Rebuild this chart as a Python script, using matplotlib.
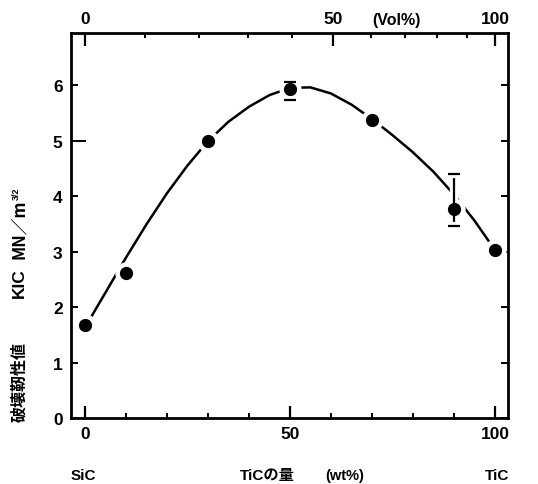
import numpy as np
import matplotlib
matplotlib.use("Agg")
import matplotlib.pyplot as plt
import matplotlib.patheffects as pe

# Measured fracture toughness of SiC-TiC composites
tic_wt = [0, 10, 30, 50, 70, 90, 100]
kic = [1.68, 2.62, 5.00, 5.93, 5.38, 3.77, 3.03]
err_low = [0, 0, 0, 0.20, 0, 0.30, 0]
err_high = [0, 0, 0, 0.13, 0, 0.62, 0]

# Hand-drawn trend curve through the measurements
curve_x = [0, 5, 10, 15, 20, 25, 30, 35, 40, 45, 50, 55, 60, 65, 70, 75, 80, 85, 90, 95, 100]
curve_y = [1.63, 2.26, 2.89, 3.49, 4.05, 4.55, 4.99, 5.34, 5.61, 5.82, 5.95, 5.96, 5.85,
           5.65, 5.39, 5.10, 4.79, 4.44, 4.03, 3.56, 3.03]

y_ticks = [0, 1, 2, 3, 4, 5, 6]
x_major = [0, 50, 100]
x_minor = [10, 20, 30, 40, 60, 70, 80, 90]
vol_major = [0, 50, 100]
vol_minor = [10, 20, 30, 40, 60, 70, 80, 90]

# densities (g/cm3) used to convert vol% to wt% for the top scale
RHO_SIC = 3.21
RHO_TIC = 4.93


def vol_to_wt(v):
    v = np.asarray(v, dtype=float) / 100.0
    return 100.0 * v * RHO_TIC / (v * RHO_TIC + (1 - v) * RHO_SIC)


LAT = ["Liberation Sans", "Noto Sans CJK JP"]
CJK = ["Noto Sans CJK JP", "Liberation Sans"]

W, H = 538, 485
fig = plt.figure(figsize=(W / 100, H / 100), dpi=100)
ax = fig.add_axes([71 / W, 1 - 419 / H, (508 - 71) / W, (419 - 34) / H])

ax.set_xlim(-3.4, 103.2)
ax.set_ylim(0, 6.94)

for s in ax.spines.values():
    s.set_linewidth(2.0)

lw = 1.8
ax.plot(curve_x, curve_y, color="black", lw=lw, zorder=2, solid_capstyle="butt",
        solid_joinstyle="round")

# white halo around markers leaves the gaps in the curve
ax.plot(tic_wt, kic, "o", ms=15, mfc="white", mec="white", zorder=3)

halo = [pe.Stroke(linewidth=6, foreground="white"), pe.Normal()]
eb = ax.errorbar([tic_wt[i] for i in (3, 5)], [kic[i] for i in (3, 5)],
                 yerr=[[err_low[i] for i in (3, 5)], [err_high[i] for i in (3, 5)]],
                 fmt="none", ecolor="black", elinewidth=1.6, capsize=4.5, capthick=1.6,
                 zorder=4)
for art in list(eb.lines[1]) + list(eb.lines[2]):
    art.set_path_effects(halo)

ax.plot(tic_wt, kic, "o", ms=8.5, color="black", zorder=5)

# bottom axis ticks
ax.set_xticks(x_major)
ax.set_xticks(x_minor, minor=True)
ax.set_xticklabels([str(v) for v in x_major])
ax.set_yticks(y_ticks)
ax.set_yticklabels([str(v) for v in y_ticks])
ax.tick_params(axis="x", which="major", direction="in", length=9, width=1.6,
               pad=6, labelsize=12.5, top=False)
ax.tick_params(axis="x", which="minor", direction="in", length=3.5, width=1.4, top=False)
ax.tick_params(axis="y", which="major", direction="in", length=5, width=1.4,
               pad=6, labelsize=12.5, right=True)
ax.yaxis.get_major_ticks()[5].tick1line.set_markersize(11)
for lab in ax.get_xticklabels() + ax.get_yticklabels():
    lab.set_fontfamily(LAT)
    lab.set_fontweight("bold")

# top axis in vol%
top = ax.twiny()
top.set_xlim(ax.get_xlim())
top.set_xticks(vol_to_wt(vol_major))
top.set_xticks(vol_to_wt(vol_minor), minor=True)
top.set_xticklabels([str(v) for v in vol_major])
top.tick_params(axis="x", which="major", direction="in", length=9, width=1.6,
                pad=5, labelsize=12.5)
top.tick_params(axis="x", which="minor", direction="in", length=3.5, width=1.4)
for lab in top.get_xticklabels():
    lab.set_fontfamily(LAT)
    lab.set_fontweight("bold")
for s in top.spines.values():
    s.set_visible(False)

top.text(76.0, 1.036, "(Vol%)", transform=top.get_xaxis_transform(), ha="center",
         va="center", fontsize=11.5, fontweight="bold", family=LAT)

# composition labels under the axis
bt = ax.get_xaxis_transform()
ax.text(-0.5, -0.148, "SiC", transform=bt, ha="center", va="center",
        fontsize=11, fontweight="bold", family=LAT)
ax.text(44.4, -0.148, "TiCの量", transform=bt, ha="center", va="center",
        fontsize=11, fontweight="bold", family=LAT)
ax.text(63.4, -0.148, "(wt%)", transform=bt, ha="center", va="center",
        fontsize=10.5, fontweight="bold", family=LAT)
ax.text(100.5, -0.148, "TiC", transform=bt, ha="center", va="center",
        fontsize=11, fontweight="bold", family=LAT)

# rotated y label, set in separate pieces
ylab_x = 19 / W
fig.text(ylab_x, 1 - 382 / H, "破壊靭性値", rotation=90, ha="center", va="center",
         fontsize=11.5, fontweight="bold", family=CJK)
fig.text(ylab_x, 1 - 283 / H, "KIC", rotation=90, ha="center", va="center",
         fontsize=12.5, fontweight="bold", family=LAT)
fig.text(ylab_x, 1 - 229 / H, "MN／m", rotation=90, ha="center", va="center",
         fontsize=12, fontweight="bold", family=CJK)
fig.text(ylab_x - 3 / W, 1 - 194 / H, "3/2", rotation=90, ha="center", va="center",
         fontsize=6.5, fontweight="bold", family=LAT)

fig.savefig("out.png", dpi=100)
